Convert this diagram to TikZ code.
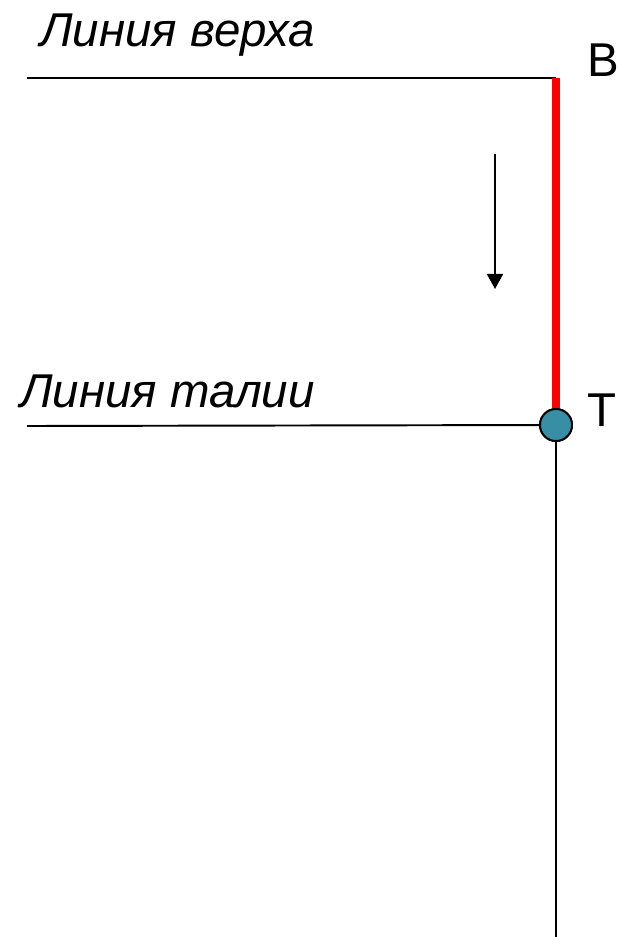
\documentclass[tikz,border=0pt]{standalone}
\usepackage{fontspec}
\setmainfont{Liberation Sans}
\usepackage{tikz}
\usetikzlibrary{arrows.meta}
\definecolor{dotblue}{RGB}{56,142,165}

\begin{document}
\begin{tikzpicture}[
  thinline/.style={line width=1.1pt, black},
  redline/.style={line width=4.2pt, red},
  label/.style={anchor=base west, inner sep=0pt, font=\fontsize{27}{32}\selectfont},
  dot/.style={circle, draw=black, line width=1.1pt, fill=dotblue, minimum size=0.64cm, inner sep=0pt}]

\useasboundingbox (0,0) rectangle (12.38,-18.74);

\node[label] (verh) at (0.80,-0.94) {\itshape Линия верха};
\node[label] (talia) at (0.40,-8.14) {\itshape Линия талии};
\node[label] (B) at (11.74,-1.54) {В};
\node[label] (T) at (11.74,-8.52) {Т};

\coordinate (vl) at (0.54,-1.56);
\coordinate (vr) at (11.12,-1.56);
\coordinate (tl) at (0.54,-8.52);
\coordinate (bot) at (11.12,-18.74);
\coordinate (a1) at (9.90,-3.08);
\coordinate (a2) at (9.90,-5.78);

\node[dot] (t) at (11.12,-8.50) {};

\draw[thinline] (vl) -- (vr);
\draw[thinline] (tl) -- (t);
\draw[thinline] (t) -- (bot);
\draw[redline] (vr) -- (t.north);
\draw[thinline, -{Triangle[width=0.32cm,length=0.30cm]}] (a1) -- (a2);

\node[dot] at (t) {};
\end{tikzpicture}
\end{document}
